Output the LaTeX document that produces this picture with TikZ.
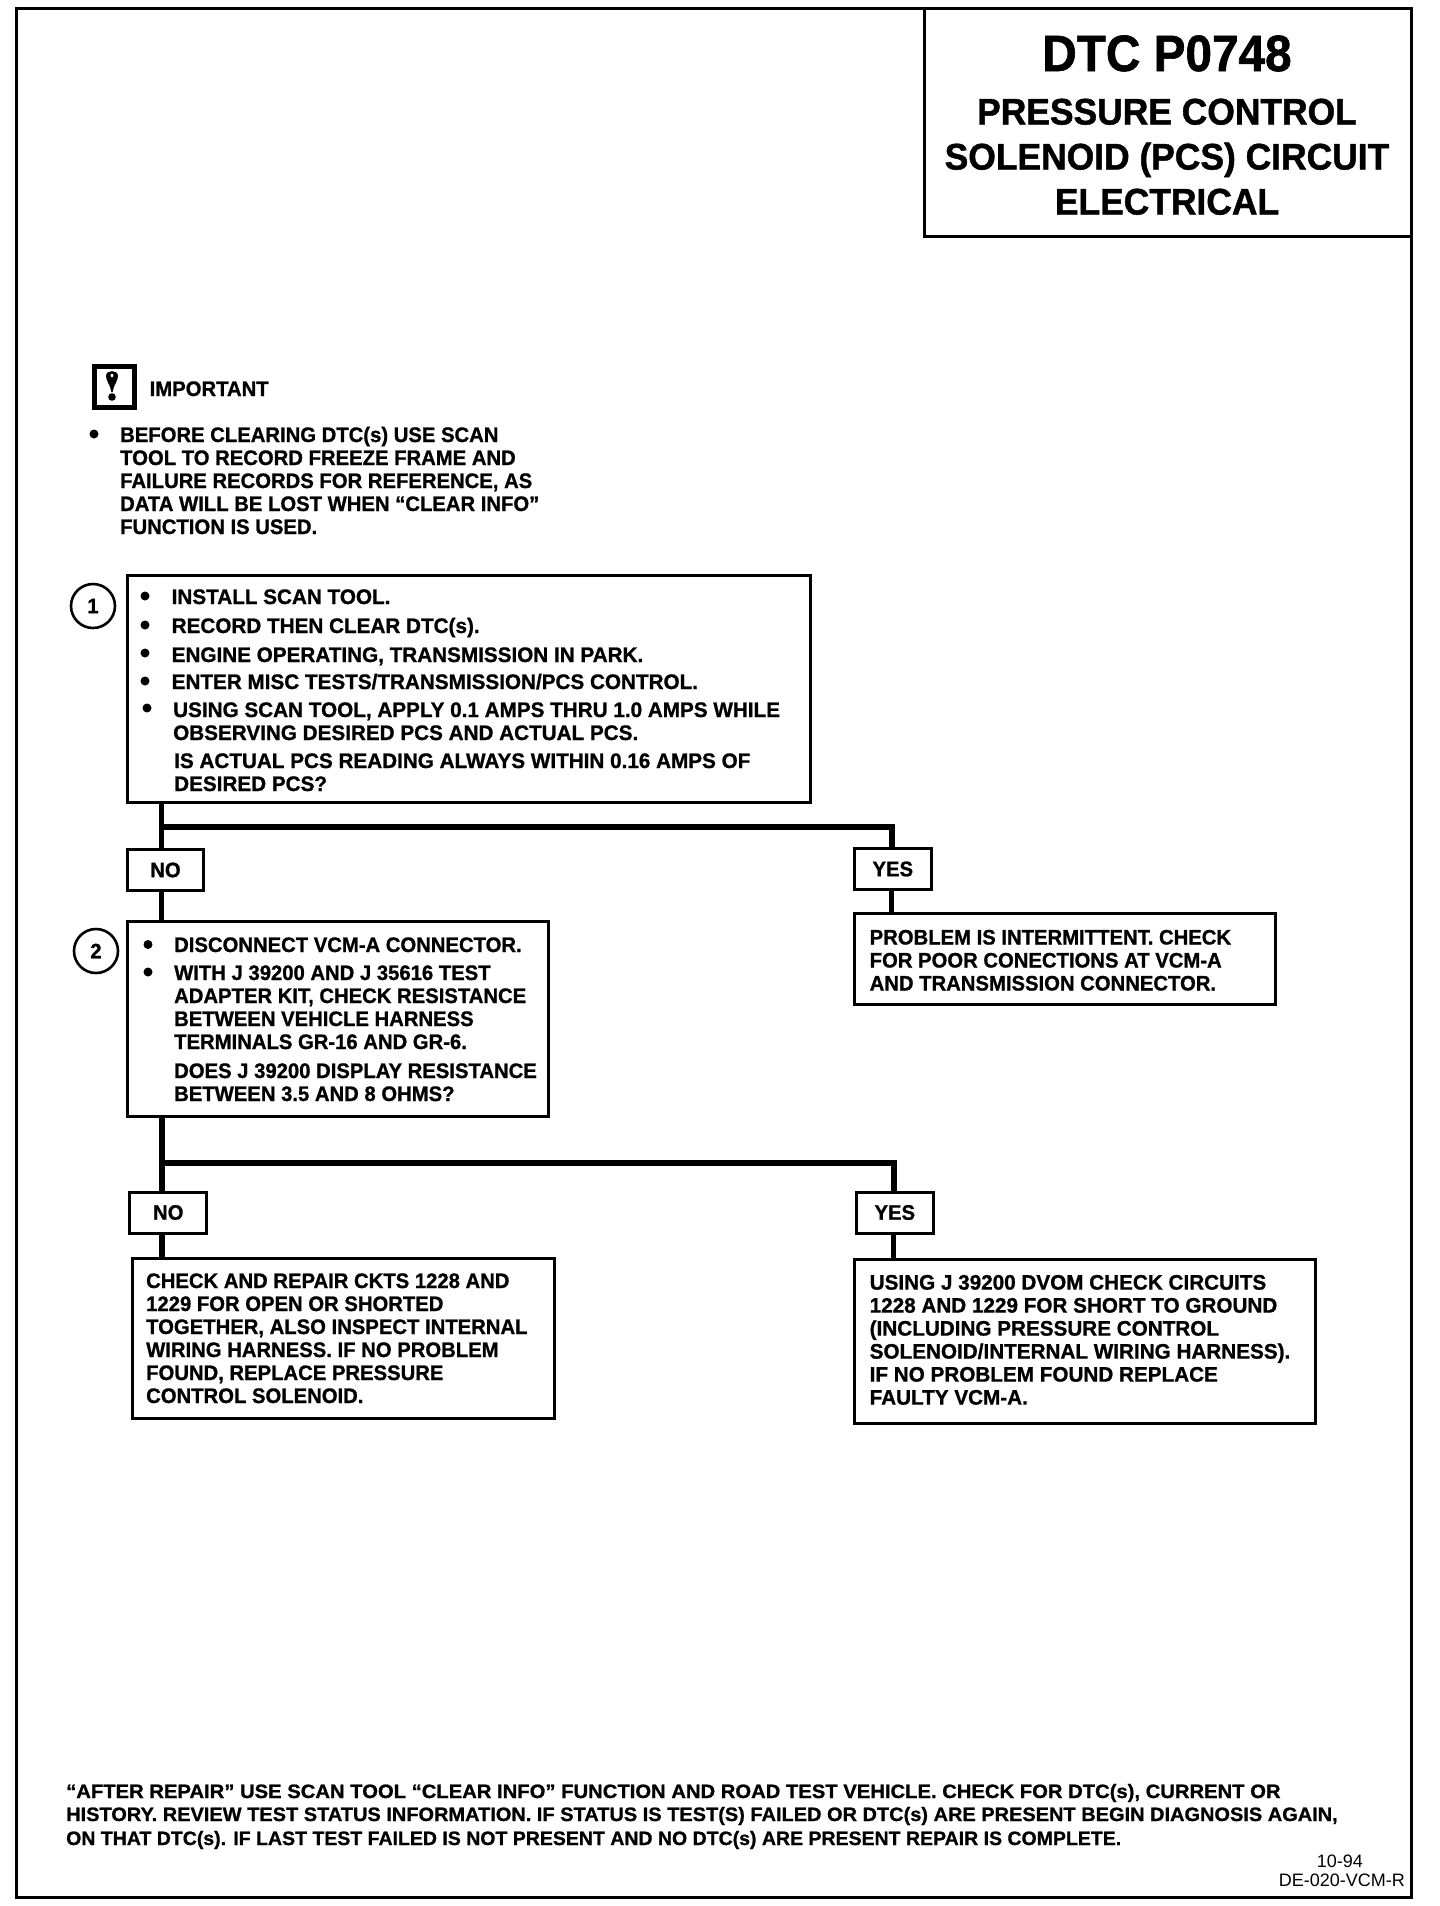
\documentclass[tikz,border=0pt]{standalone}
\usepackage{fontspec}
\newfontfamily\hb{Liberation Sans}
\newfontfamily\hbA[BoldFeatures={FakeBold=1,FakeStretch=0.965}]{Liberation Sans}
\newfontfamily\hbB[BoldFeatures={FakeBold=1,FakeStretch=0.985}]{Liberation Sans}
\newfontfamily\hbT[BoldFeatures={FakeBold=1.2,FakeStretch=0.957}]{Liberation Sans}
\newfontfamily\hbD[BoldFeatures={FakeBold=1.2,FakeStretch=0.936}]{Liberation Sans}
\newfontfamily\hbF[BoldFeatures={FakeBold=0.9,FakeStretch=1.043}]{Liberation Sans}
\newfontfamily\hbG[BoldFeatures={FakeBold=0.9,FakeStretch=1.03}]{Liberation Sans}
\newfontfamily\hbH[BoldFeatures={FakeBold=0.9,FakeStretch=1.005}]{Liberation Sans}
\newcommand{\body}{\hbA\bfseries\fontsize{21}{23}\selectfont}
\newcommand{\bodyb}{\hbB\bfseries\fontsize{21}{23}\selectfont}
\newcommand{\lns}[1]{\vtop{\baselineskip=23pt\lineskiplimit=-100pt #1}}
\tikzset{
 boxnode/.style={draw=black,line width=3pt,fill=white,anchor=north west,inner sep=0pt},
 tagbox/.style={draw=black,line width=3pt,fill=white,anchor=north west,inner sep=0pt,font=\body,align=center},
 conn/.style={draw=black,line width=5.5pt},
 connh/.style={draw=black,line width=6pt},
 txt/.style={anchor=base west,inner sep=0pt,font=\body},
 txtb/.style={anchor=base west,inner sep=0pt,font=\bodyb},
 ttl/.style={anchor=base,inner sep=0pt,font=\hbT\bfseries\fontsize{37}{37}\selectfont},
 bull/.style={circle,fill=black,inner sep=0pt,minimum size=9pt},
 stepnum/.style={circle,draw=black,line width=2.6pt,fill=white,inner sep=0pt,minimum size=44pt,font=\body},
 foot/.style={anchor=base west,inner sep=0pt},
 small/.style={anchor=base east,inner sep=0pt,font=\hb\fontsize{18}{20}\selectfont},
}
\begin{document}
\begin{tikzpicture}[x=1pt,y=-1pt]
\useasboundingbox (0,0) rectangle (1440,1906);
\fill[white] (0,0) rectangle (1440,1906);
% outer frame and title
\node[boxnode,minimum width=1395pt,minimum height=1889pt,fill=none] (frame) at (14.5,7) {};
\node[boxnode,minimum width=486.5pt,minimum height=228pt] (titlebox) at (923,7) {};
\node[ttl,font=\hbD\bfseries\fontsize{51}{51}\selectfont] (t1) at (1167,71) {DTC P0748};
\node[ttl] (t2) at (1167,124.5) {PRESSURE CONTROL};
\node[ttl] (t3) at (1167,169.5) {SOLENOID (PCS) CIRCUIT};
\node[ttl] (t4) at (1167,214.5) {ELECTRICAL};
% important
\node[boxnode,line width=5pt,minimum width=40pt,minimum height=41pt] (imp) at (91.5,364) {};
\fill[black,even odd rule] (106,376) .. controls (106,369.5) and (118,369.5) .. (118,376) .. controls (118,381) and (113.5,385) .. (112.6,392) -- (111.4,392) .. controls (110.5,385) and (106,381) .. (106,376) -- cycle
 (112,373.5) .. controls (110,373.5) and (110,377.5) .. (112,377.5) .. controls (114,377.5) and (114,373.5) .. (112,373.5) -- cycle;
\fill[black] (112,397) circle (3.8);
\node[txt] (imptxt) at (149.5,396) {IMPORTANT};
\node[bull] (b0) at (94,434) {};
\node[txt] (imp1) at (120,442) {\lns{\hbox{BEFORE CLEARING DTC(s) USE SCAN}\hbox{TOOL TO RECORD FREEZE FRAME AND}\hbox{FAILURE RECORDS FOR REFERENCE, AS}\hbox{DATA WILL BE LOST WHEN “CLEAR INFO”}\hbox{FUNCTION IS USED.}}};
% box 1
\node[boxnode,minimum width=683pt,minimum height=227pt] (s1) at (126,574) {};
\node[stepnum] (c1) at (93,606) {1};
\node[bull] (b11) at (145,596) {};
\node[txtb] (l11) at (171.5,604) {INSTALL SCAN TOOL.};
\node[bull] (b12) at (145,625) {};
\node[txtb] (l12) at (171.5,633) {RECORD THEN CLEAR DTC(s).};
\node[bull] (b13) at (145,653) {};
\node[txtb] (l13) at (171.5,662) {ENGINE OPERATING, TRANSMISSION IN PARK.};
\node[bull] (b14) at (145,681) {};
\node[txtb] (l14) at (171.5,689) {ENTER MISC TESTS/TRANSMISSION/PCS CONTROL.};
\node[bull] (b15) at (147,708) {};
\node[txtb] (l15) at (173,717) {\lns{\hbox{USING SCAN TOOL, APPLY 0.1 AMPS THRU 1.0 AMPS WHILE}\hbox{OBSERVING DESIRED PCS AND ACTUAL PCS.}}};
\node[txtb] (l16) at (174,768) {\lns{\hbox{IS ACTUAL PCS READING ALWAYS WITHIN 0.16 AMPS OF}\hbox{DESIRED PCS?}}};
% tags row 1
\node[tagbox,minimum width=76pt,minimum height=41pt] (no1) at (126,848) {NO};
\node[tagbox,minimum width=77pt,minimum height=41pt] (yes1) at (852.8,847) {YES};
% box 2
\node[boxnode,minimum width=421pt,minimum height=195pt] (s2) at (126,920) {};
\node[stepnum] (c2) at (96,951) {2};
\node[bull] (b21) at (148,944.5) {};
\node[txt] (l21) at (174,952) {DISCONNECT VCM-A CONNECTOR.};
\node[bull] (b22) at (148,972) {};
\node[txt] (l22) at (174,980) {\lns{\hbox{WITH J 39200 AND J 35616 TEST}\hbox{ADAPTER KIT, CHECK RESISTANCE}\hbox{BETWEEN VEHICLE HARNESS}\hbox{TERMINALS GR-16 AND GR-6.}}};
\node[txt] (l23) at (174,1078) {\lns{\hbox{DOES J 39200 DISPLAY RESISTANCE}\hbox{BETWEEN 3.5 AND 8 OHMS?}}};
% right box 1
\node[boxnode,minimum width=421pt,minimum height=91pt] (r1) at (852.8,912) {};
\node[txt] (lr1) at (869.5,944.5) {\lns{\hbox{PROBLEM IS INTERMITTENT. CHECK}\hbox{FOR POOR CONECTIONS AT VCM-A}\hbox{AND TRANSMISSION CONNECTOR.}}};
% tags row 2
\node[tagbox,minimum width=77pt,minimum height=41pt] (no2) at (128.3,1190.5) {NO};
\node[tagbox,minimum width=77pt,minimum height=41pt] (yes2) at (854.8,1190.5) {YES};
% bottom boxes
\node[boxnode,minimum width=422pt,minimum height=160pt] (e1) at (131,1257) {};
\node[txt] (le1) at (146,1288) {\lns{\hbox{CHECK AND REPAIR CKTS 1228 AND}\hbox{1229 FOR OPEN OR SHORTED}\hbox{TOGETHER, ALSO INSPECT INTERNAL}\hbox{WIRING HARNESS. IF NO PROBLEM}\hbox{FOUND, REPLACE PRESSURE}\hbox{CONTROL SOLENOID.}}};
\node[boxnode,minimum width=461pt,minimum height=164pt] (e2) at (852.8,1258) {};
\node[txtb] (le2) at (869.5,1289.6) {\lns{\hbox{USING J 39200 DVOM CHECK CIRCUITS}\hbox{1228 AND 1229 FOR SHORT TO GROUND}\hbox{(INCLUDING PRESSURE CONTROL}\hbox{SOLENOID/INTERNAL WIRING HARNESS).}\hbox{IF NO PROBLEM FOUND REPLACE}\hbox{FAULTY VCM-A.}}};
% connectors
\coordinate (j1) at (161.5,827);
\coordinate (k1) at (891.5,827);
\coordinate (j2) at (162,1163);
\coordinate (k2) at (893.5,1163);
\draw[conn] (j1 |- s1.south) -- (j1 |- no1.north);
\draw[conn] (j1 |- no1.south) -- (j1 |- s2.north);
\draw[connh,line join=miter] (j1) -- (k1) -- (k1 |- yes1.north);
\draw[conn] (k1 |- yes1.south) -- (k1 |- r1.north);
\draw[conn] (j2 |- s2.south) -- (j2 |- no2.north);
\draw[conn] (j2 |- no2.south) -- (j2 |- e1.north);
\draw[connh,line join=miter] (j2) -- (k2) -- (k2 |- yes2.north);
\draw[conn] (k2 |- yes2.south) -- (k2 |- e2.north);
% footer
\node[foot,font=\hbF\bfseries\fontsize{19.4}{23}\selectfont] (f1) at (66,1798) {“AFTER REPAIR” USE SCAN TOOL “CLEAR INFO” FUNCTION AND ROAD TEST VEHICLE. CHECK FOR DTC(s), CURRENT OR};
\node[foot,font=\hbG\bfseries\fontsize{19.4}{23}\selectfont] (f2) at (66,1821) {HISTORY. REVIEW TEST STATUS INFORMATION. IF STATUS IS TEST(S) FAILED OR DTC(s) ARE PRESENT BEGIN DIAGNOSIS AGAIN,};
\node[foot,font=\hbH\bfseries\fontsize{19.4}{23}\selectfont] (f3) at (66,1845) {ON THAT DTC(s). IF LAST TEST FAILED IS NOT PRESENT AND NO DTC(s) ARE PRESENT REPAIR IS COMPLETE.};
\node[small] (d1) at (1363,1867) {10-94};
\node[small] (d2) at (1405,1886) {DE-020-VCM-R};
\end{tikzpicture}
\end{document}
